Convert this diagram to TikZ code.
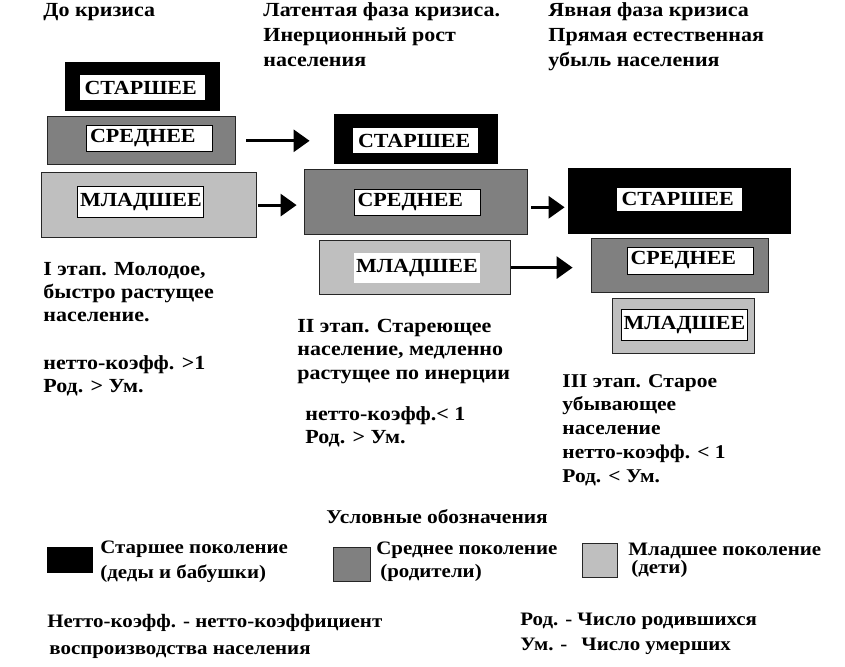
\documentclass[tikz,border=0pt]{standalone}
\usepackage{fontspec}
\setmainfont{Liberation Serif}[FakeStretch=1.1]
\usetikzlibrary{positioning, arrows.meta}
\tikzset{every picture/.style={line width=0.8pt}}
\newcommand\lines[1]{\begin{tabular}[t]{@{}l@{}}#1\end{tabular}}
\tikzset{
  oldgen/.style={draw=black, fill=black, inner sep=0pt},
  midgen/.style={draw=black!85, fill=black!50, inner sep=0pt},
  younggen/.style={draw=black!85, fill=black!25, inner sep=0pt},
  tag/.style={draw, fill=white, line width=0.6pt, text width=121pt, inner xsep=2.5pt, inner ysep=0pt,
    align=left, minimum height=26pt, font=\bfseries\fontsize{20}{22}\selectfont},
  txt/.style={inner sep=0pt, anchor=base west, font=\bfseries\fontsize{20}{23.5}\selectfont},
  keytxt/.style={txt, font=\bfseries\fontsize{19}{23.5}\selectfont},
  go/.style={line width=3pt, -{Triangle[length=16pt,width=22pt]}}
}

\begin{document}
\begin{tikzpicture}[x=1pt, y=-1pt]
\useasboundingbox (0,0) rectangle (845,666);
			% до кризиса
			\node[oldgen, minimum width=154pt, minimum height=48pt] (old 1) at (142,86) {};
			\node[midgen, minimum width=188pt, minimum height=48pt, below=6pt of old 1, xshift=-1pt] (mid 1) {};
			\node[younggen, minimum width=215pt, minimum height=65pt, below=7pt of mid 1, xshift=7.5pt] (young 1) {};
			\node[tag, yshift=-1.5pt] (old 1 tag) at (old 1) {\hspace*{3pt}СТАРШЕЕ};
			\node[tag, xshift=8.5pt, yshift=2.5pt] (mid 1 tag) at (mid 1) {\hspace*{1pt}СРЕДНЕЕ};
			\node[tag, minimum height=31pt, xshift=-8pt, yshift=3pt] (young 1 tag) at (young 1) {МЛАДШЕЕ};
			% латентная фаза
			\node[oldgen, minimum width=163pt, minimum height=49pt] (old 2) at (415.5,138.5) {};
			\node[midgen, minimum width=223pt, minimum height=65pt, below=6pt of old 2] (mid 2) {};
			\node[younggen, minimum width=191pt, minimum height=54pt, below=5pt of mid 2, xshift=-1pt] (young 2) {};
			\node[tag, yshift=-2pt] (old 2 tag) at (old 2) {\hspace*{3pt}СТАРШЕЕ};
			\node[tag, xshift=1.5pt] (mid 2 tag) at (mid 2) {\hspace*{1pt}СРЕДНЕЕ};
			\node[tag, draw=none, minimum height=30pt, xshift=2pt] (young 2 tag) at (young 2) {МЛАДШЕЕ};
			% явная фаза
			\node[oldgen, minimum width=222pt, minimum height=65pt] (old 3) at (679,200.5) {};
			\node[midgen, minimum width=177pt, minimum height=54pt, below=5pt of old 3, xshift=0.5pt] (mid 3) {};
			\node[younggen, minimum width=142pt, minimum height=55pt, below=5pt of mid 3, xshift=3.5pt] (young 3) {};
			\node[tag, minimum height=24pt, yshift=1.5pt] (old 3 tag) at (old 3) {\hspace*{3pt}СТАРШЕЕ};
			\node[tag, minimum height=27pt, xshift=10.5pt, yshift=5.5pt] (mid 3 tag) at (mid 3) {\hspace*{1pt}СРЕДНЕЕ};
			\node[tag, minimum height=31pt, xshift=1pt, yshift=1pt] (young 3 tag) at (young 3) {МЛАДШЕЕ};

			\draw[go, shorten <=11pt, shorten >=24pt] (mid 1.east) -- (mid 1.east -| old 2.west);
			\draw[go, shorten <=2pt, shorten >=7pt] (young 1.east) -- (young 1.east -| mid 2.west);
			\draw[go, shorten <=4pt, shorten >=3pt] ([yshift=-5pt]mid 2.east) -- ([yshift=-5pt]mid 2.east -| old 3.west);
			\draw[go, shorten <=1pt, shorten >=18pt] (young 2.east) -- (young 2.east -| mid 3.west);

			% подписи
			\node[txt] (head 1) at (43,17) {До кризиса};
			\node[txt] (head 2) at (263,17) {\lines{Латентая фаза кризиса.\\[1.5pt]Инерционный рост\\[1.5pt]населения}};
			\node[txt] (head 3) at (548,17) {\lines{Явная фаза кризиса\\[1.5pt]Прямая естественная\\[1.5pt]убыль населения}};
			\node[txt] (stage 1) at (43,275) {\lines{I этап. Молодое,\\[-0.5pt]быстро растущее\\[-0.5pt]население.}};
			\node[txt] (coef 1) at (43,369) {\lines{нетто-коэфф. >1\\[-0.5pt]Род. > Ум.}};
			\node[txt] (stage 2) at (297,332) {\lines{II этап. Стареющее\\население, медленно\\растущее по инерции}};
			\node[txt] (coef 2) at (305,420) {\lines{нетто-коэфф.< 1\\[-0.5pt]Род. > Ум.}};
			\node[txt, font=\bfseries\fontsize{19.5}{23.75}\selectfont] (stage 3) at (562,387) {\lines{III этап. Старое\\убывающее\\население\\нетто-коэфф. < 1\\Род. < Ум.}};

			% условные обозначения
			\node[keytxt, font=\bfseries\fontsize{19.5}{23.5}\selectfont] (legend) at (326,523) {Условные обозначения};
			\node[oldgen, minimum width=45pt, minimum height=25pt] (key old) at (69.5,559.5) {};
			\node[midgen, minimum width=37pt, minimum height=34pt] (key mid) at (351.5,564) {};
			\node[younggen, minimum width=35pt, minimum height=34pt] (key young) at (599.5,560) {};
			\node[keytxt] (key old text) at (100,553) {\lines{Старшее поколение\\[1.5pt](деды и бабушки)}};
			\node[keytxt] (key mid text) at (376,554) {\lines{Среднее поколение\\[-0.5pt]\hspace*{4pt}(родители)}};
			\node[keytxt] (key young text) at (628,555) {\lines{Младшее поколение\\[-5pt]\hspace*{3pt}(дети)}};
			\node[keytxt] (netto) at (47,627) {\lines{Нетто-коэфф. - нетто-коэффициент\\[3.5pt]\hspace*{2pt}воспроизводства населения}};
			\node[keytxt] (abbr) at (520,625) {\lines{Род. - Число родившихся\\[1.5pt]Ум. -\hspace*{14pt}Число умерших}};
\end{tikzpicture}
\end{document}
